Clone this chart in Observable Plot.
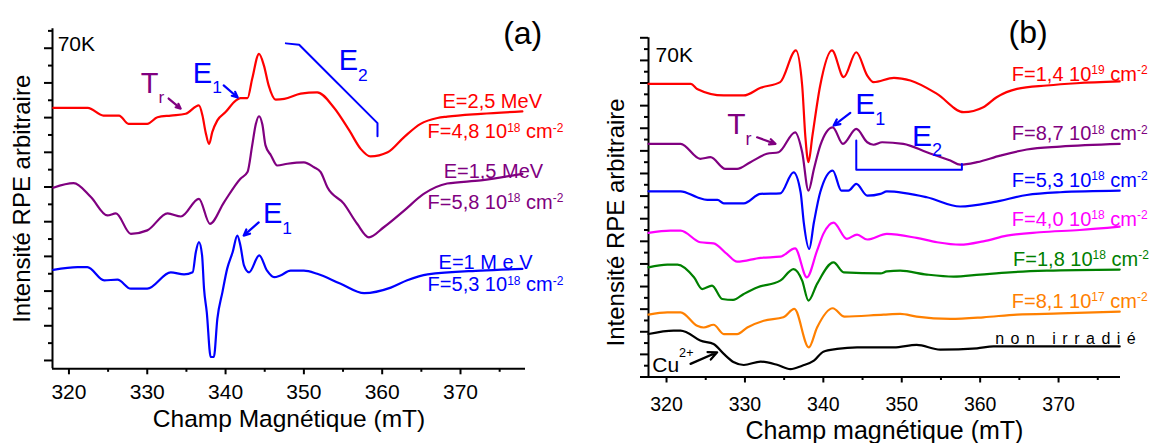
<!DOCTYPE html>
<html><head><meta charset="utf-8">
<script src="https://cdn.jsdelivr.net/npm/d3@7"></script>
<script src="https://cdn.jsdelivr.net/npm/@observablehq/plot@0.6"></script>
<style>
html,body{margin:0;padding:0;background:#fff;}
body{width:1155px;height:443px;overflow:hidden;position:relative;font-family:"Liberation Sans",Arial,sans-serif;}
#pa{position:absolute;left:0;top:0;}
#pb{position:absolute;left:590px;top:0;}
</style></head>
<body><div id="pa"></div><div id="pb"></div>
<script>
// ---------- common ticks ----------
const X_MAJOR = [320, 330, 340, 350, 360, 370];
const X_MINOR = [325, 335, 345, 355, 365, 375];
const A_Y_MAJOR = [0,1,2,3,4,5,6,7,8,9];
const A_Y_MINOR = [0.5,1.5,2.5,3.5,4.5,5.5,6.5,7.5,8.5,9.5];
const B_Y_MAJOR = [0,1,2,3,4,5,6,7,8,9,10,11,12,13,14,15];
const B_Y_MINOR = [0.5,1.5,2.5,3.5,4.5,5.5,6.5,7.5,8.5,9.5,10.5,11.5,12.5,13.5,14.5];

const COLORS = {red:"#ff0000", purple:"#800080", blue:"#0000ff", magenta:"#ff00ff", green:"#008000", orange:"#ff8000", black:"#000000"};

// ---------- panel (a) spectra: [field mT, intensity a.u.] ----------
const aRed = [[318,7.28],[322.4,7.28],[324.4,7.06],[326.4,7.06],[327.6,6.82],[330.0,6.82],[331.3,7.01],[333.0,7.06],[334.9,7.11],[336.6,7.35],[337.05,7.06],[337.45,6.58],[337.9,6.24],[338.3,6.58],[338.95,6.92],[340.0,7.16],[341.3,7.49],[341.9,7.56],[342.8,7.56],[343.4,8.12],[344.27,8.84],[344.9,8.50],[345.5,7.93],[346.4,7.52],[347.5,7.54],[349.6,7.69],[351.7,7.73],[353.8,7.30],[355.8,6.63],[357.25,6.10],[358.5,5.88],[360.7,6.00],[362.8,6.44],[364.9,6.82],[367.05,6.99],[368.3,7.03],[372.6,7.11],[377.9,7.18]];
const aPurple = [[318,4.98],[320.6,5.11],[322.8,4.71],[324.9,4.18],[326.0,4.24],[327.9,3.65],[330.0,3.75],[332.6,4.24],[334.3,4.15],[336.6,4.66],[338.0,3.94],[339.8,4.56],[341.9,5.24],[342.8,5.43],[343.4,6.20],[343.85,6.80],[344.27,7.04],[344.7,6.80],[345.1,6.20],[345.8,5.91],[346.6,5.62],[347.9,5.67],[350.0,5.71],[351.3,5.57],[352.15,5.43],[353.0,4.99],[355.1,4.52],[356.8,3.94],[358.3,3.55],[360.2,3.84],[362.8,4.32],[365.3,4.80],[368.3,5.10],[372.6,5.19],[377.9,5.38]];
const aBlue = [[318,2.61],[321.1,2.69],[322.35,2.69],[324.5,2.31],[326.2,2.33],[327.9,2.07],[330.0,2.07],[333.0,2.54],[334.7,2.48],[335.8,2.54],[336.2,3.12],[336.6,3.41],[337.0,3.03],[337.25,2.07],[337.6,1.39],[338.1,0.10],[338.5,0.10],[338.95,1.20],[339.6,1.97],[340.2,2.64],[340.9,3.12],[341.5,3.60],[341.9,3.31],[342.35,2.74],[343.0,2.54],[344.3,3.03],[345.3,2.59],[346.2,2.40],[347.0,2.45],[348.3,2.59],[350.0,2.59],[351.7,2.50],[354.7,2.21],[357.7,1.94],[361.1,2.10],[363.2,2.31],[365.8,2.48],[372.6,2.59],[377.9,2.64]];

// ---------- panel (b) spectra ----------
const bRed = [[317.7,12.96],[323.1,12.96],[323.9,12.74],[327.3,12.45],[329.85,12.45],[332.0,12.79],[334.5,13.04],[336.5,14.44],[337.3,12.89],[337.7,10.65],[338.1,9.50],[338.6,10.65],[339.6,12.89],[341.1,14.44],[342.6,13.26],[344.2,14.36],[345.6,13.33],[346.4,13.04],[349.0,13.23],[351.1,13.11],[354.5,12.52],[357.9,11.71],[360.4,11.93],[362.1,12.37],[364.7,12.74],[368.5,12.89],[372.3,12.99],[377.8,13.07]];
const bPurple = [[317.7,10.31],[321.8,10.31],[324.3,9.65],[325.6,9.72],[327.5,9.20],[329.0,9.20],[330.7,9.50],[332.8,9.87],[334.3,9.94],[336.4,10.82],[337.3,9.94],[338.1,8.24],[338.8,9.20],[339.6,10.23],[341.2,11.04],[342.5,10.31],[344.2,10.97],[345.6,10.38],[346.4,10.27],[347.5,10.38],[350.2,10.31],[353.2,9.94],[356.2,9.57],[357.45,9.39],[359.6,9.50],[362.55,9.79],[365.95,10.06],[370.2,10.19],[377.8,10.31]];
const bBlue = [[317.7,8.21],[321.8,8.21],[323.9,7.95],[325.2,7.83],[326.5,7.83],[327.3,7.68],[329.85,7.68],[332.0,8.10],[334.5,8.12],[336.2,9.05],[337.1,8.17],[337.5,6.84],[338.2,5.66],[338.8,6.84],[339.6,8.17],[341.2,9.13],[342.3,8.24],[343.2,8.24],[344.2,8.54],[345.6,8.02],[347.3,8.10],[348.1,8.21],[353.2,7.95],[357.45,7.54],[361.7,7.73],[365.95,8.05],[370.2,8.17],[377.8,8.24]];
const bMagenta = [[317.7,6.37],[320.5,6.47],[321.8,6.47],[324.3,5.96],[326.0,5.91],[327.7,5.44],[329.0,5.10],[332.0,5.27],[334.5,5.32],[336.4,5.69],[337.9,4.41],[339.2,5.59],[340.0,6.33],[341.3,6.83],[343.0,6.11],[344.3,6.30],[345.6,6.08],[348.1,6.33],[351.9,6.15],[354.5,5.96],[357.45,5.85],[360.4,6.00],[363.4,6.25],[367.6,6.40],[372.7,6.50],[377.8,6.65]];
const bGreen = [[317.7,4.85],[320.1,4.97],[321.4,4.97],[323.5,4.41],[324.55,3.89],[325.8,4.04],[327.1,3.45],[328.5,3.41],[329.85,3.67],[331.55,3.96],[334.5,4.26],[336.2,4.77],[337.3,4.26],[338.1,3.38],[339.2,4.12],[341.3,5.07],[342.6,4.63],[347.3,4.58],[348.1,4.67],[349.8,4.70],[353.2,4.53],[356.6,4.44],[360.0,4.53],[363.8,4.63],[368.5,4.70],[377.8,4.75]];
const bOrange = [[317.7,2.76],[320.1,2.86],[321.8,2.86],[323.9,2.27],[324.75,2.19],[326.0,2.31],[327.3,1.90],[329.0,1.90],[330.3,2.19],[332.4,2.49],[334.9,2.64],[336.3,3.01],[338.15,1.31],[339.2,2.19],[341.2,3.04],[342.7,2.67],[347.7,2.76],[349.8,2.79],[351.9,2.67],[356.2,2.57],[360.4,2.64],[364.7,2.76],[370.2,2.81],[377.8,2.89]];
const bBlack = [[317.7,1.90],[320.9,2.05],[321.8,2.05],[322.6,1.97],[324.3,1.61],[326.0,1.46],[327.3,1.02],[328.6,0.65],[329.85,0.53],[332.0,0.68],[334.1,0.54],[335.8,0.35],[337.3,0.50],[338.8,0.72],[340.0,1.12],[341.75,1.24],[344.3,1.31],[349.0,1.31],[351.9,1.42],[354.9,1.21],[359.6,1.27],[361.7,1.35],[377.8,1.35]];

// ---------- annotations (data coordinates) ----------
const aBigLabels = [
  {t:"T_{r}", f:329.18, v:7.72, k:"purple"},
  {t:"E_{1}", f:335.82, v:8.01, k:"blue"},
  {t:"E_{2}", f:354.44, v:8.36, k:"blue"},
  {t:"E_{1}", f:344.77, v:3.96, k:"blue"}
];
const aSideLabels = [
  {t:"E=2,5 MeV", f:367.7, v:7.29, k:"red"},
  {t:"F=4,8 10^{18} cm^{-2}", f:365.8, v:6.40, k:"red"},
  {t:"E=1,5 MeV", f:367.85, v:5.27, k:"purple"},
  {t:"F=5,8 10^{18} cm^{-2}", f:365.8, v:4.38, k:"purple"},
  {t:"E=1 M e V", f:367.2, v:2.65, k:"blue"},
  {t:"F=5,3 10^{18} cm^{-2}", f:365.8, v:1.99, k:"blue"}
];
const aArrows = [
  {f1:332.73, v1:7.55, f2:334.27, v2:7.26, k:"purple"},
  {f1:339.76, v1:7.93, f2:341.55, v2:7.58, k:"blue"},
  {f1:344.23, v1:3.98, f2:342.31, v2:3.60, k:"blue"}
];
const aBracket = [[347.7,9.14],[349.4,9.10],[359.4,6.84],[359.4,6.46]];
const aTemp = [{t:"70K", f:318.56, v:8.93}];
const aTag = [{t:"(a)", f:377.94, v:9.13}];

const bBigLabels = [
  {t:"T_{r}", f:327.73, v:10.75, k:"purple"},
  {t:"E_{1}", f:344.08, v:11.64, k:"blue"},
  {t:"E_{2}", f:351.30, v:10.23, k:"blue"}
];
const bSideLabels = [
  {t:"F=1,4 10^{19} cm^{-2}", f:364.04, v:13.11, k:"red"},
  {t:"F=8,7 10^{18} cm^{-2}", f:364.04, v:10.46, k:"purple"},
  {t:"F=5,3 10^{18} cm^{-2}", f:364.04, v:8.42, k:"blue"},
  {t:"F=4,0 10^{18} cm^{-2}", f:364.04, v:6.69, k:"magenta"},
  {t:"F=1,8 10^{18} cm^{-2}", f:364.2, v:4.92, k:"green"},
  {t:"F=8,1 10^{17} cm^{-2}", f:364.04, v:3.07, k:"orange"}
];
const bNonIrr = [{t:"non irradié", f:361.91, v:1.47, k:"black"}];
const bCu = [{t:"Cu^^{2+}", f:318.18, v:0.20, k:"black"}];
const bArrows = [
  {f1:331.55, v1:10.60, f2:333.89, v2:10.31, k:"purple"},
  {f1:343.44, v1:11.68, f2:341.31, v2:11.12, k:"blue"},
  {f1:323.06, v1:0.58, f2:326.46, v2:1.09, k:"black"}
];
const bBracket = [[344.2,10.46],[344.2,9.17],[357.67,9.17],[357.67,9.42]];
const bTemp = [{t:"70K", f:318.6, v:13.91}];
const bTag = [{t:"(b)", f:366.11, v:14.75}];

const Y_TITLE = "Intensité RPE arbitraire";
const A_X_TITLE = "Champ Magnétique (mT)";
const B_X_TITLE = "Champ magnétique (mT)";

// ---------- helpers ----------
const pts = a => a.map(([f, v]) => ({f, v}));

function rich(svg) {
  for (const t of svg.querySelectorAll("text")) {
    const s = t.textContent;
    if (!/[\^_]\{/.test(s)) continue;
    const fs = parseFloat(getComputedStyle(t).fontSize);
    t.textContent = "";
    let cur = 0, last = 0, m;
    const re = /(\^\^|\^|_)\{([^}]*)\}/g;
    const add = (txt, off, size) => {
      const ts = document.createElementNS("http://www.w3.org/2000/svg", "tspan");
      ts.textContent = txt;
      if (off !== cur) { ts.setAttribute("dy", (off - cur).toFixed(2)); cur = off; }
      if (size) ts.setAttribute("font-size", size.toFixed(2));
      t.appendChild(ts);
    };
    while ((m = re.exec(s))) {
      if (m.index > last) add(s.slice(last, m.index), 0);
      const off = m[1] === "_" ? 0.36 * fs : m[1] === "^" ? -0.32 * fs : -0.75 * fs;
      add(m[2], off, 0.6 * fs);
      last = re.lastIndex;
    }
    if (last < s.length) add(s.slice(last), 0);
  }
  for (const t of svg.querySelectorAll("text")) {
    if (t.textContent === "non irradié") t.setAttribute("letter-spacing", "6.5");
  }
}

function panel(cfg) {
  const fw = cfg.width - cfg.ml - cfg.mr;          // frame width (px)
  const fh = 443 - cfg.mt - cfg.mb;                // frame height (px)
  const xTicks = (vals, len) => Plot.ruleX(vals, {x: d => d, stroke: "black", strokeWidth: 2, insetTop: fh, insetBottom: -len});
  const yTicks = (vals, len) => Plot.ruleY(vals, {y: d => d, stroke: "black", strokeWidth: 2, insetLeft: -len, insetRight: fw});
  const marks = [
    Plot.ruleX([cfg.xDomain[0]], {stroke: "black", strokeWidth: 2}),
    Plot.ruleY([cfg.yDomain[0]], {stroke: "black", strokeWidth: 2}),
    xTicks(X_MAJOR, 6), xTicks(X_MINOR, 3.5),
    yTicks(cfg.yMajor, 8), yTicks(cfg.yMinor, 4),
    Plot.text(X_MAJOR, {x: d => d, text: d => String(d), frameAnchor: "bottom", lineAnchor: "top", dy: 6 + cfg.tickPad, fontSize: cfg.tickFont, fill: "black"}),
    ...cfg.series.map(([arr, k]) => Plot.line(pts(arr), {x: "f", y: "v", stroke: COLORS[k], strokeWidth: 2.2, curve: "monotone-x"})),
    Plot.line(pts(cfg.bracket), {x: "f", y: "v", stroke: COLORS.blue, strokeWidth: 2}),
    Plot.arrow(cfg.arrows, {x1: "f1", y1: "v1", x2: "f2", y2: "v2", stroke: d => COLORS[d.k], strokeWidth: 2.2, headLength: 9, headAngle: 50}),
    Plot.text(cfg.big, {x: "f", y: "v", text: "t", fill: d => COLORS[d.k], fontSize: cfg.bigFont, textAnchor: "start", lineAnchor: "bottom"}),
    Plot.text(cfg.side, {x: "f", y: "v", text: "t", fill: d => COLORS[d.k], fontSize: 20, textAnchor: "start", lineAnchor: "bottom"}),
    Plot.text(cfg.temp, {x: "f", y: "v", text: "t", fill: "black", fontSize: 21, textAnchor: "start", lineAnchor: "bottom"}),
    Plot.text(cfg.tag, {x: "f", y: "v", text: "t", fill: "black", fontSize: 32, textAnchor: "middle", lineAnchor: "bottom"}),
    Plot.text([cfg.xTitle], {text: d => d, frameAnchor: "bottom", textAnchor: "middle", lineAnchor: "bottom", dy: cfg.xTitleDy, fontSize: cfg.titleFont, fill: "black"}),
    Plot.text([Y_TITLE], {text: d => d, frameAnchor: "left", textAnchor: "middle", lineAnchor: "middle", rotate: -90, dx: cfg.yTitleDx, dy: cfg.yTitleDy, fontSize: 24, fill: "black"}),
    ...(cfg.extra || [])
  ];
  const svg = Plot.plot({
    width: cfg.width, height: 443,
    marginLeft: cfg.ml, marginRight: cfg.mr, marginTop: cfg.mt, marginBottom: cfg.mb,
    x: {domain: cfg.xDomain, label: null, axis: null},
    y: {domain: cfg.yDomain, label: null, axis: null},
    color: {type: "identity"},
    style: {fontFamily: "'Liberation Sans', Arial, sans-serif", fontSize: "20px", color: "black", background: "white", overflow: "visible"},
    marks
  });
  document.getElementById(cfg.id).appendChild(svg);
  rich(svg);
}

panel({
  id: "pa", width: 590, ml: 52, mr: 65, mt: 28.3, mb: 74.7,
  xDomain: [317.9, 378.3], yDomain: [-0.24, 9.56],
  yMajor: A_Y_MAJOR, yMinor: A_Y_MINOR,
  tickPad: 9, tickFont: 21,
  series: [[aRed, "red"], [aPurple, "purple"], [aBlue, "blue"]],
  bracket: aBracket, arrows: aArrows, big: aBigLabels, bigFont: 29,
  side: aSideLabels, temp: aTemp, tag: aTag,
  xTitle: A_X_TITLE, xTitleDy: 58, titleFont: 24.5, yTitleDx: -30, yTitleDy: 0
});

panel({
  id: "pb", width: 565, ml: 58, mr: 35, mt: 37.3, mb: 66.5,
  xDomain: [317.7, 377.9], yDomain: [0, 15],
  yMajor: B_Y_MAJOR, yMinor: B_Y_MINOR,
  tickPad: 14, tickFont: 19.5,
  series: [[bRed, "red"], [bPurple, "purple"], [bBlue, "blue"], [bMagenta, "magenta"], [bGreen, "green"], [bOrange, "orange"], [bBlack, "black"]],
  bracket: bBracket, arrows: bArrows, big: bBigLabels, bigFont: 30,
  side: bSideLabels, temp: bTemp, tag: bTag,
  xTitle: B_X_TITLE, xTitleDy: 62, titleFont: 25, yTitleDx: -32, yTitleDy: 15,
  extra: [
    Plot.text(bNonIrr, {x: "f", y: "v", text: "t", fill: "black", fontSize: 16, textAnchor: "start", lineAnchor: "bottom"}),
    Plot.text(bCu, {x: "f", y: "v", text: "t", fill: "black", fontSize: 21, textAnchor: "start", lineAnchor: "bottom"})
  ]
});
</script>
</body></html>
